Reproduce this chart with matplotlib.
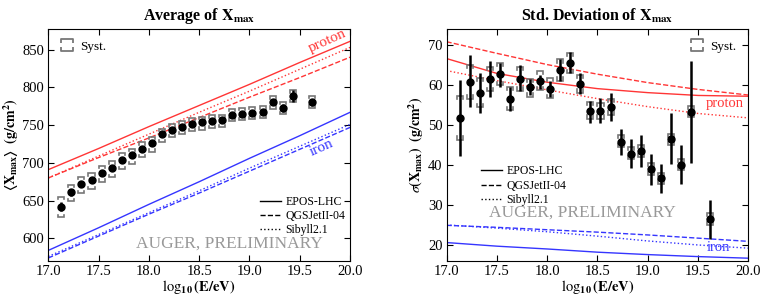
import numpy as np
import matplotlib
matplotlib.use('Agg')
from matplotlib import pyplot as plt
from matplotlib.lines import Line2D
from matplotlib.path import Path

plt.rcParams['font.family'] = ['Liberation Serif', 'DejaVu Serif']
plt.rcParams['mathtext.fontset'] = 'stix'
plt.rcParams['xtick.direction'] = 'in'
plt.rcParams['ytick.direction'] = 'in'
plt.rcParams['xtick.top'] = True
plt.rcParams['ytick.right'] = True

# energy bins
log_e = [17.13, 17.23, 17.33, 17.43, 17.53, 17.63, 17.73, 17.83, 17.93, 18.03,
         18.13, 18.23, 18.33, 18.43, 18.53, 18.63, 18.73, 18.83, 18.93, 19.03,
         19.13, 19.23, 19.33, 19.43, 19.62]

# <Xmax>
xmax_mean = [642, 661, 672, 677, 687, 693, 704, 710, 719, 726,
             738, 744, 748, 752, 754, 756, 757, 764, 765, 766,
             767, 780, 773, 788, 780]
xmax_stat = [6, 5, 4, 4, 3, 3, 3, 3, 2, 2,
             2, 2, 2, 2, 2, 2, 2, 2, 2, 3,
             3, 4, 5, 8, 5]
xmax_sys_up = [13, 10, 9, 9, 9, 9, 9, 9, 8, 8,
               7, 7, 7, 7, 7, 7, 7, 8, 8, 8,
               8, 8, 8, 8, 9]
xmax_sys_lo = [14, 12, 12, 12, 12, 12, 12, 12, 11, 11,
               11, 10, 10, 10, 10, 10, 10, 8, 8, 8,
               8, 8, 8, 8, 7]

# sigma(Xmax)
sig_mean = [51.6, 60.7, 58.0, 61.5, 62.6, 56.5, 61.5, 59.3, 60.9, 58.9,
            63.6, 65.3, 60.1, 53.3, 53.5, 54.5, 45.8, 42.8, 43.4, 38.9,
            36.6, 46.4, 40.0, 53.2, 26.4]
sig_stat_lo = [9.3, 6.4, 5.0, 4.5, 3.1, 3.0, 3.2, 1.8, 1.9, 1.9,
               2.6, 2.5, 2.5, 2.9, 3.1, 3.5, 3.3, 3.5, 3.9, 3.9,
               3.6, 6.1, 4.8, 12.7, 4.9]
sig_stat_hi = [9.6, 6.6, 5.0, 4.5, 2.9, 3.0, 3.3, 2.0, 1.6, 1.9,
               2.7, 2.9, 2.7, 2.7, 3.1, 3.5, 3.2, 3.7, 4.1, 3.9,
               3.6, 6.4, 5.0, 12.8, 4.9]
sig_sys_up = [5.6, 4.3, 3.7, 3.0, 2.8, 3.0, 3.0, 2.2, 2.6, 2.7,
              2.7, 2.7, 2.3, 2.3, 2.0, 2.0, 1.7, 1.7, 1.6, 1.6,
              1.4, 1.4, 1.5, 1.5, 1.6]
sig_sys_lo = [5.3, 4.2, 3.7, 3.2, 2.8, 2.9, 3.0, 2.3, 2.3, 2.3,
              2.6, 2.5, 2.1, 1.8, 2.0, 2.0, 1.3, 1.3, 1.4, 1.4,
              1.3, 1.4, 1.2, 1.4, 1.4]

# model predictions
model_e = [17.0, 17.5, 18.0, 18.5, 19.0, 19.5, 20.0]
models = ['EPOS-LHC', 'QGSJetII-04', 'Sibyll2.1']
styles = ['-', '--', ':']
mean_p = {'EPOS-LHC': [691, 719, 748, 776, 804, 833, 861],
          'QGSJetII-04': [680, 707, 733, 760, 787, 813, 840],
          'Sibyll2.1': [680, 709, 738, 767, 795, 824, 853]}
mean_fe = {'EPOS-LHC': [584, 614, 645, 675, 706, 736, 767],
           'QGSJetII-04': [574, 603, 632, 660, 689, 718, 747],
           'Sibyll2.1': [576, 605, 634, 663, 693, 722, 751]}
sig_p = {'EPOS-LHC': [66.5, 62.8, 60.6, 59.0, 58.0, 57.3, 57.1],
         'QGSJetII-04': [70.7, 67.8, 65.0, 62.6, 60.5, 58.8, 57.4],
         'Sibyll2.1': [63.5, 61.0, 58.7, 56.5, 54.5, 52.8, 51.7]}
sig_fe = {'EPOS-LHC': [20.6, 19.7, 19.0, 18.2, 17.6, 17.1, 16.7],
          'QGSJetII-04': [24.9, 24.4, 23.8, 23.2, 22.5, 21.7, 20.9],
          'Sibyll2.1': [25.0, 24.2, 23.3, 22.2, 21.0, 20.0, 19.2]}

RED = '#ff3535'
BLUE = '#3535ff'
GREY = '#777777'

bracket = Path([(-1, 0.3), (-1, 1), (1, 1), (1, 0.3), (-1, -0.3), (-1, -1), (1, -1), (1, -0.3)],
               [Path.MOVETO, Path.LINETO, Path.LINETO, Path.LINETO,
                Path.MOVETO, Path.LINETO, Path.LINETO, Path.LINETO])


def draw_sys(ax, x, y, up, lo, w=0.03, tick=1.0):
    for xi, yi, u, l in zip(x, y, up, lo):
        ax.plot([xi - w, xi - w, xi + w, xi + w], [yi + u - tick, yi + u, yi + u, yi + u - tick],
                color=GREY, lw=1.2, solid_joinstyle='miter', zorder=2)
        ax.plot([xi - w, xi - w, xi + w, xi + w], [yi - l + tick, yi - l, yi - l, yi - l + tick],
                color=GREY, lw=1.2, solid_joinstyle='miter', zorder=2)


fig = plt.figure(figsize=(7.66, 3.0), dpi=100)
ax1 = fig.add_axes([0.063, 0.13, 0.394, 0.775])
ax2 = fig.add_axes([0.583, 0.13, 0.394, 0.775])

# ---- left: mean
for m, ls in zip(models, styles):
    ax1.plot(model_e, mean_p[m], ls=ls, color=RED, lw=1)
    ax1.plot(model_e, mean_fe[m], ls=ls, color=BLUE, lw=1)
draw_sys(ax1, log_e, xmax_mean, xmax_sys_up, xmax_sys_lo, tick=3)
ax1.errorbar(log_e, xmax_mean, yerr=xmax_stat, fmt='o', color='black', ms=5, elinewidth=1.8,
             capsize=0, zorder=3)
ax1.set_xlim(17.0, 20.0)
ax1.set_ylim(570, 878)
ax1.set_xticks(np.arange(17.0, 20.01, 0.5))
ax1.set_yticks(np.arange(600, 851, 50))
ax1.set_title(r'Average of $\mathbf{X_{max}}$', fontsize=11.5, fontweight='bold', pad=6)
ax1.set_xlabel(r'$\mathbf{\log_{10}(E/eV)}$', fontsize=10.5, labelpad=0)
ax1.set_ylabel(r'$\mathbf{\langle X_{max}\rangle\ \ (g/cm^2)}$', fontsize=10, labelpad=1)
ax1.text(19.77, 862, 'proton', color=RED, fontsize=11, rotation=24, ha='center', va='center')
ax1.text(19.72, 720, 'iron', color=BLUE, fontsize=11, rotation=24, ha='center', va='center')
ax1.text(18.8, 593, 'AUGER, PRELIMINARY', color='#999999', fontsize=12.5, ha='center', va='center')
h = [Line2D([], [], color='black', ls=ls, lw=1) for ls in styles]
leg = ax1.legend(h, models, loc='lower left', bbox_to_anchor=(0.665, 0.06), frameon=False,
                 fontsize=8.5, handlelength=1.8, handletextpad=0.4, labelspacing=0.2)
ax1.add_artist(leg)
hs = Line2D([], [], ls='none', marker=bracket, ms=8, mec=GREY, mfc='none', mew=1.3)
ax1.legend([hs], ['Syst.'], loc='upper left', bbox_to_anchor=(0.0, 1.0), frameon=False,
           fontsize=9.5, handlelength=1.0, handletextpad=0.5)

# ---- right: sigma
for m, ls in zip(models, styles):
    ax2.plot(model_e, sig_p[m], ls=ls, color=RED, lw=1)
    ax2.plot(model_e, sig_fe[m], ls=ls, color=BLUE, lw=1)
draw_sys(ax2, log_e, sig_mean, sig_sys_up, sig_sys_lo, w=0.03, tick=0.8)
ax2.errorbar(log_e, sig_mean, yerr=[sig_stat_lo, sig_stat_hi], fmt='o', color='black', ms=5,
             elinewidth=1.8, capsize=0, zorder=3)
ax2.set_xlim(17.0, 20.0)
ax2.set_ylim(16, 74)
ax2.set_xticks(np.arange(17.0, 20.01, 0.5))
ax2.set_yticks(np.arange(20, 71, 10))
ax2.set_title(r'Std. Deviation of $\mathbf{X_{max}}$', fontsize=11.5, fontweight='bold', pad=6)
ax2.set_xlabel(r'$\mathbf{\log_{10}(E/eV)}$', fontsize=10.5, labelpad=0)
ax2.set_ylabel(r'$\sigma\mathbf{(X_{max})\ \ (g/cm^2)}$', fontsize=10, labelpad=1)
ax2.text(19.76, 55.3, 'proton', color=RED, fontsize=10.5, ha='center', va='center')
ax2.text(19.7, 19.4, 'iron', color=BLUE, fontsize=10.5, ha='center', va='center')
ax2.text(18.35, 28.0, 'AUGER, PRELIMINARY', color='#999999', fontsize=12.5, ha='center', va='center')
h = [Line2D([], [], color='black', ls=ls, lw=1) for ls in styles]
leg = ax2.legend(h, models, loc='lower left', bbox_to_anchor=(0.078, 0.19), frameon=False,
                 fontsize=8.5, handlelength=1.8, handletextpad=0.4, labelspacing=0.2)
ax2.add_artist(leg)
ax2.legend([hs], ['Syst.'], loc='upper right', bbox_to_anchor=(1.0, 1.0), frameon=False,
           fontsize=9.5, handlelength=1.0, handletextpad=0.5)

for ax in (ax1, ax2):
    ax.tick_params(labelsize=10.5, length=4, width=0.8, pad=3)

fig.savefig('out.png', dpi=100)
